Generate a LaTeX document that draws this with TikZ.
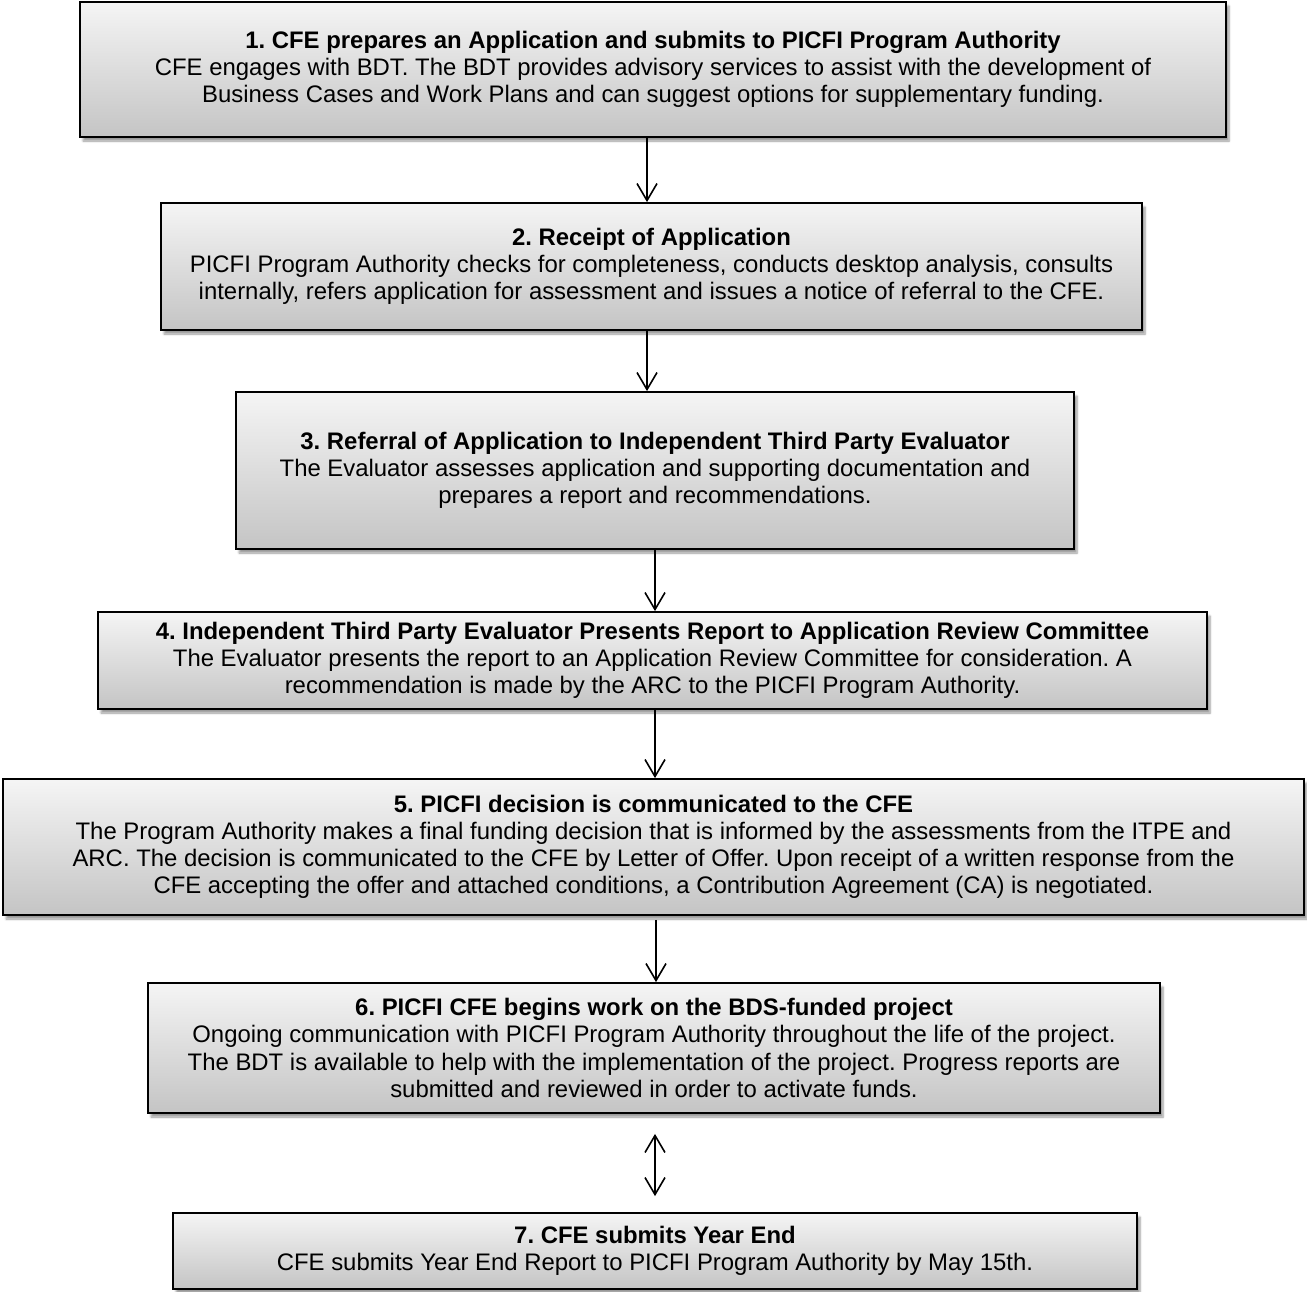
\documentclass[tikz,border=0pt]{standalone}
\usepackage{fontspec}
\setmainfont{Liberation Sans}
\usetikzlibrary{arrows.meta,shadows.blur,calc}
\frenchspacing
\begin{document}
\begin{tikzpicture}[x=1pt,y=1pt,
  stepbox/.style={draw=black, line width=1.8pt, top color=black!4, bottom color=black!23,
    align=center, inner sep=0pt, font=\fontsize{23.9}{27.2}\selectfont,
    blur shadow={shadow xshift=3pt, shadow yshift=-4pt, shadow blur steps=6}},
  arr/.style={line width=1.6pt, -{Straight Barb[length=17pt,width=20pt,line width=1.6pt]}},
  darr/.style={line width=1.6pt, {Straight Barb[length=17pt,width=20pt,line width=1.6pt]}-{Straight Barb[length=17pt,width=20pt,line width=1.6pt]}},
]
\useasboundingbox (0,0) rectangle (1307,-1291);

\node[stepbox, minimum width=1146, minimum height=135] (b1) at (653,-69.5)
  {\textbf{1. CFE prepares an Application and submits to PICFI Program Authority}\\
   CFE engages with BDT. The BDT provides advisory services to assist with the development of\\
   Business Cases and Work Plans and can suggest options for supplementary funding.};

\node[stepbox, minimum width=981, minimum height=127] (b2) at (651.5,-266.5)
  {\textbf{2. Receipt of Application}\\
   PICFI Program Authority checks for completeness, conducts desktop analysis, consults\\
   internally, refers application for assessment and issues a notice of referral to the CFE.};

\node[stepbox, minimum width=838, minimum height=157] (b3) at (655,-470.5)
  {\textbf{3. Referral of Application to Independent Third Party Evaluator}\\
   The Evaluator assesses application and supporting documentation and\\
   prepares a report and recommendations.};

\node[stepbox, minimum width=1109, minimum height=97] (b4) at (652.5,-660.5)
  {\textbf{4. Independent Third Party Evaluator Presents Report to Application Review Committee}\\
   The Evaluator presents the report to an Application Review Committee for consideration. A\\
   recommendation is made by the ARC to the PICFI Program Authority.};

\node[stepbox, minimum width=1301, minimum height=136] (b5) at (653.5,-847)
  {\textbf{5. PICFI decision is communicated to the CFE}\\
   The Program Authority makes a final funding decision that is informed by the assessments from the ITPE and\\
   ARC. The decision is communicated to the CFE by Letter of Offer. Upon receipt of a written response from the\\
   CFE accepting the offer and attached conditions, a Contribution Agreement (CA) is negotiated.};

\node[stepbox, minimum width=1012, minimum height=130] (b6) at (654,-1048)
  {\textbf{6. PICFI CFE begins work on the BDS-funded project}\\
   Ongoing communication with PICFI Program Authority throughout the life of the project.\\
   The BDT is available to help with the implementation of the project. Progress reports are\\
   submitted and reviewed in order to activate funds.};

\node[stepbox, minimum width=964, minimum height=76] (b7) at (655,-1251)
  {\textbf{7. CFE submits Year End}\\
   CFE submits Year End Report to PICFI Program Authority by May 15th.};

\draw[arr] ($(b1.south)+(-6,0)$) -- ($(b2.north)+(-4.5,0)$);
\draw[arr] ($(b2.north)+(-4.5,-127)$) -- ($(b3.north)+(-8,0)$);
\draw[arr] ($(b3.south)+(0,0)$) -- ($(b4.north)+(2.5,0)$);
\draw[arr] ($(b4.south)+(2.5,0)$) -- ($(b5.north)+(1.5,0)$);
\draw[arr] ($(b5.south)+(2.5,-4)$) -- ($(b6.north)+(2,0)$);
\coordinate (d1) at ($(b6.south)+(1,-20)$);
\coordinate (d2) at ($(b7.north)+(0,16)$);
\draw[darr] (d1) -- (d2);
\end{tikzpicture}
\end{document}
